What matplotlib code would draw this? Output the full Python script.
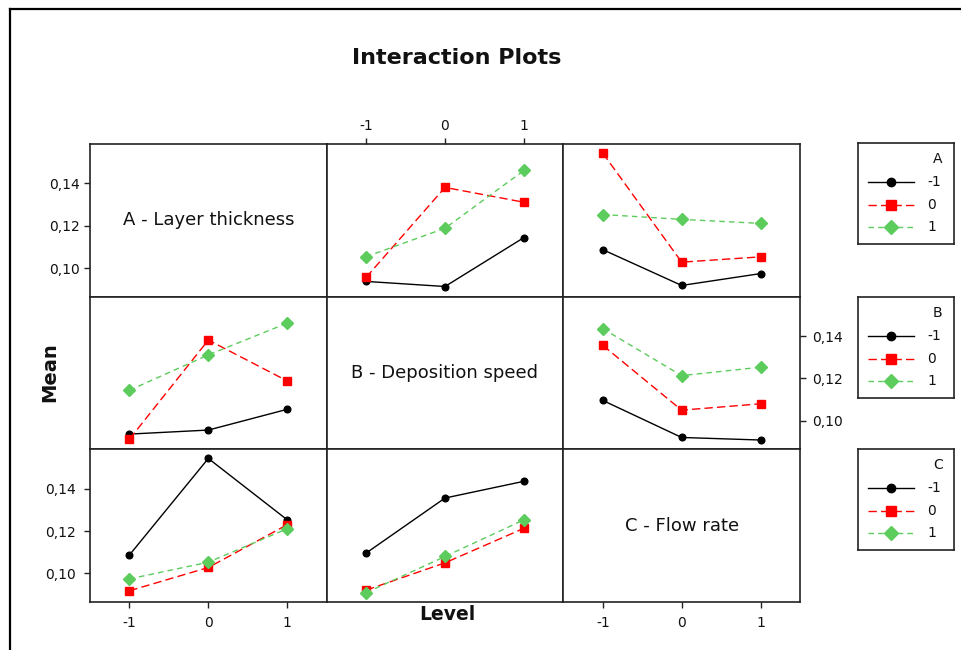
import numpy as np
import matplotlib
matplotlib.use("Agg")
import matplotlib.pyplot as plt
from matplotlib.lines import Line2D

# factor levels and names
levels = [-1, 0, 1]
level_labels = ["-1", "0", "1"]
factors = ["A", "B", "C"]
factor_names = ["A - Layer thickness", "B - Deposition speed", "C - Flow rate"]

# cell means, rows = first factor level, cols = second factor level
mean_AB = np.array([[0.0937, 0.0913, 0.1144],
                    [0.0956, 0.1381, 0.1311],
                    [0.1054, 0.1188, 0.1461]])
mean_AC = np.array([[0.1087, 0.0918, 0.0974],
                    [0.1543, 0.1028, 0.1053],
                    [0.1253, 0.1230, 0.1211]])
mean_BC = np.array([[0.1096, 0.0921, 0.0909],
                    [0.1356, 0.1050, 0.1080],
                    [0.1435, 0.1213, 0.1253]])
tables = {(0, 1): mean_AB, (0, 2): mean_AC, (1, 2): mean_BC}

y_ticks = [0.10, 0.12, 0.14]
y_ticklabels = ["0,10", "0,12", "0,14"]

# line styles per level of the trace factor
colors = ["#000000", "#ff0000", "#5ccc5c"]
markers = ["o", "s", "D"]
msizes = [4.8, 6.3, 6.0]
lstyles = ["-", (0, (6, 3)), (0, (4, 3))]

W, H = 962, 650
fig = plt.figure(figsize=(W / 100, H / 100), dpi=100)

def fx(px):
    return px / W

def fy(py):
    return 1 - py / H

left, top = 90, 144
pw = (800 - 90) / 3
ph = (602 - 144) / 3
txt = "#111111"

axes = {}
for r in range(3):
    for c in range(3):
        ax = fig.add_axes([fx(left + c * pw), fy(top + (r + 1) * ph), pw / W, ph / H])
        ax.set_xlim(-1.5, 1.5)
        ax.set_ylim(0.0865, 0.1586)
        ax.set_xticks(levels)
        ax.set_xticklabels(level_labels)
        ax.set_yticks(y_ticks)
        ax.set_yticklabels(y_ticklabels)
        ax.tick_params(left=False, bottom=False, labelleft=False, labelbottom=False,
                       direction="out", length=4, width=1, labelsize=10, colors="#222222",
                       labelcolor=txt)
        for s in ax.spines.values():
            s.set_linewidth(1.2)
            s.set_color("#222222")
        axes[(r, c)] = ax

        if r == c:
            ax.text(0.5, 0.5, factor_names[r], transform=ax.transAxes,
                    ha="center", va="center", fontsize=13, color=txt)
            continue

        for k in range(3):
            if r < c:
                y = tables[(r, c)][k, :]
            else:
                y = tables[(c, r)][:, k]
            ax.plot(levels, y, color=colors[k], linestyle=lstyles[k], lw=1.0,
                    marker=markers[k], markersize=msizes[k],
                    markerfacecolor=colors[k], markeredgecolor=colors[k])

# alternating tick positions
axes[(0, 0)].tick_params(left=True, labelleft=True, pad=3)
axes[(2, 0)].tick_params(left=True, labelleft=True, pad=3)
axes[(0, 1)].tick_params(top=True, labeltop=True, pad=4)
axes[(1, 2)].tick_params(right=True, labelright=True, pad=5)
axes[(2, 0)].tick_params(bottom=True, labelbottom=True, pad=6)
axes[(2, 2)].tick_params(bottom=True, labelbottom=True, pad=6)

# legend boxes, one per row
for r in range(3):
    y0 = [143, 297, 449][r]
    lax = fig.add_axes([fx(858), fy(y0 + 101), 96 / W, 101 / H])
    lax.set_xlim(0, 1)
    lax.set_ylim(0, 1)
    lax.set_xticks([])
    lax.set_yticks([])
    for s in lax.spines.values():
        s.set_linewidth(1.2)
        s.set_color("#222222")
    lax.text(0.78, 0.84, factors[r], ha="left", va="center", fontsize=10, color=txt)
    for k in range(3):
        yy = [0.61, 0.39, 0.165][k]
        lax.plot([0.1, 0.58], [yy, yy], color=colors[k], linestyle=lstyles[k], lw=1.0)
        lax.plot([0.34], [yy], color=colors[k], marker=markers[k], markersize=msizes[k] + 1.2)
        lax.text(0.72, yy, level_labels[k], ha="left", va="center", fontsize=10, color=txt)

fig.text(fx(457), fy(58), "Interaction Plots", ha="center", va="center",
         fontsize=16, fontweight="bold", color=txt)
fig.text(fx(50), fy(372), "Mean", ha="center", va="center", rotation=90,
         fontsize=14, fontweight="bold", color=txt)
fig.text(fx(447), fy(615), "Level", ha="center", va="center",
         fontsize=13.5, fontweight="bold", color=txt)

# outer frame
fig.add_artist(Line2D([fx(10), 1.0], [fy(9), fy(9)], color="black", lw=1.6))
fig.add_artist(Line2D([fx(10), fx(10)], [fy(9), 0.0], color="black", lw=1.6))

fig.savefig("out.png", dpi=100)
